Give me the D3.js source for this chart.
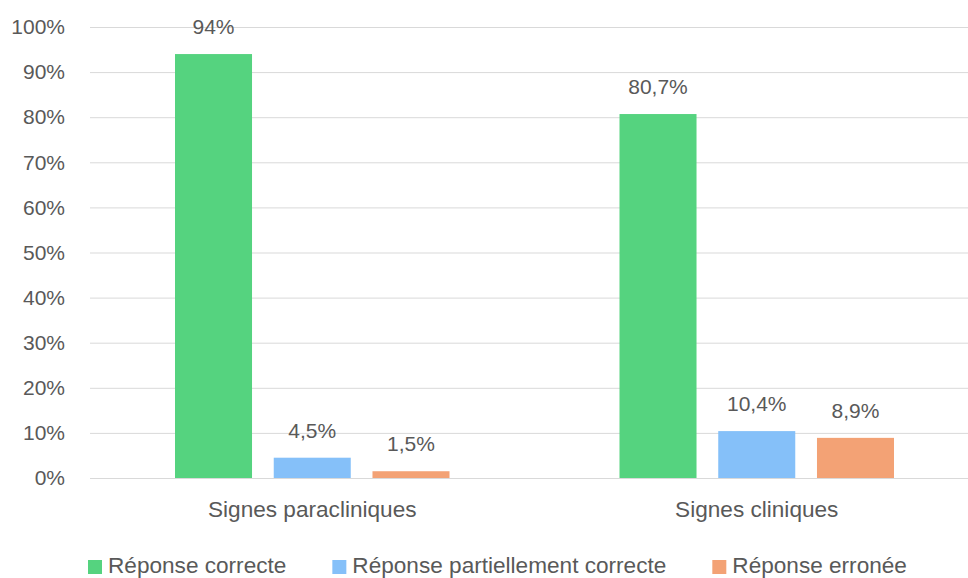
<!DOCTYPE html>
<html><head><meta charset="utf-8">
<script src="https://cdn.jsdelivr.net/npm/d3@7"></script>
<style>body{margin:0;background:#fff}svg{display:block}text{font-family:"Liberation Sans",Arial,sans-serif;fill:#595959}</style>
</head><body><svg id="c" width="968" height="578"></svg>
<script>
const categories = ["Signes paracliniques", "Signes cliniques"];
const series = ["Réponse correcte", "Réponse partiellement correcte", "Réponse erronée"];
const correcte = [94, 80.7];
const partielle = [4.5, 10.4];
const erronee = [1.5, 8.9];
const labels = [["94%", "80,7%"], ["4,5%", "10,4%"], ["1,5%", "8,9%"]];
const yTicks = [0, 10, 20, 30, 40, 50, 60, 70, 80, 90, 100];
const colors = ["#55D37F", "#85C0F9", "#F3A275"];

const values = [correcte, partielle, erronee];
const svg = d3.select("#c");
const fs = 21, fsBig = 22.6;
const y = d3.scaleLinear().domain([0, 100]).range([478, 27]);
const x0 = d3.scaleBand().domain(categories).range([90, 979]);
const bw = x0.bandwidth();
const x1 = d3.scaleBand().domain(series).range([85, bw - 85]).paddingInner(0.22);

// gridlines
const yAxis = d3.axisLeft(y).tickValues(yTicks).tickFormat(d => d + "%").tickSize(-(979 - 90)).tickPadding(25);
const ga = svg.append("g").attr("transform", "translate(90,0)").call(yAxis);
ga.select(".domain").remove();
ga.selectAll(".tick line").attr("stroke", "#d9d9d9").attr("stroke-width", 1);
ga.selectAll(".tick text").style("font-size", fs + "px").attr("fill", "#595959").style("font-family", '"Liberation Sans",Arial,sans-serif');

// bars
series.forEach((s, si) => {
  const g = svg.append("g");
  g.selectAll("rect").data(categories).join("rect")
    .attr("x", c => x0(c) + x1(s))
    .attr("width", x1.bandwidth())
    .attr("y", (c, i) => y(values[si][i]))
    .attr("height", (c, i) => y(0) - y(values[si][i]))
    .attr("fill", colors[si]);
  g.selectAll("text").data(categories).join("text")
    .attr("x", c => x0(c) + x1(s) + x1.bandwidth() / 2)
    .attr("y", (c, i) => y(values[si][i]) - 20)
    .attr("text-anchor", "middle")
    .style("font-size", fs + "px")
    .text((c, i) => labels[si][i]);
});

// category axis
const xAxis = d3.axisBottom(x0).tickSize(0).tickPadding(0);
const gx = svg.append("g").attr("transform", "translate(0,478)").call(xAxis);
gx.select(".domain").remove();
gx.selectAll(".tick text").attr("dy", 0).attr("y", 39).style("font-size", fsBig + "px").attr("fill", "#595959").style("font-family", '"Liberation Sans",Arial,sans-serif');

// legend
const lg = svg.append("g");
let lx = 88;
series.forEach((s, si) => {
  lg.append("rect").attr("x", lx).attr("y", 560).attr("width", 14).attr("height", 14).attr("fill", colors[si]);
  const t = lg.append("text").attr("x", lx + 20).attr("y", 573).style("font-size", fsBig + "px").text(s);
  lx += 20 + t.node().getComputedTextLength() + 46;
});
</script></body></html>
